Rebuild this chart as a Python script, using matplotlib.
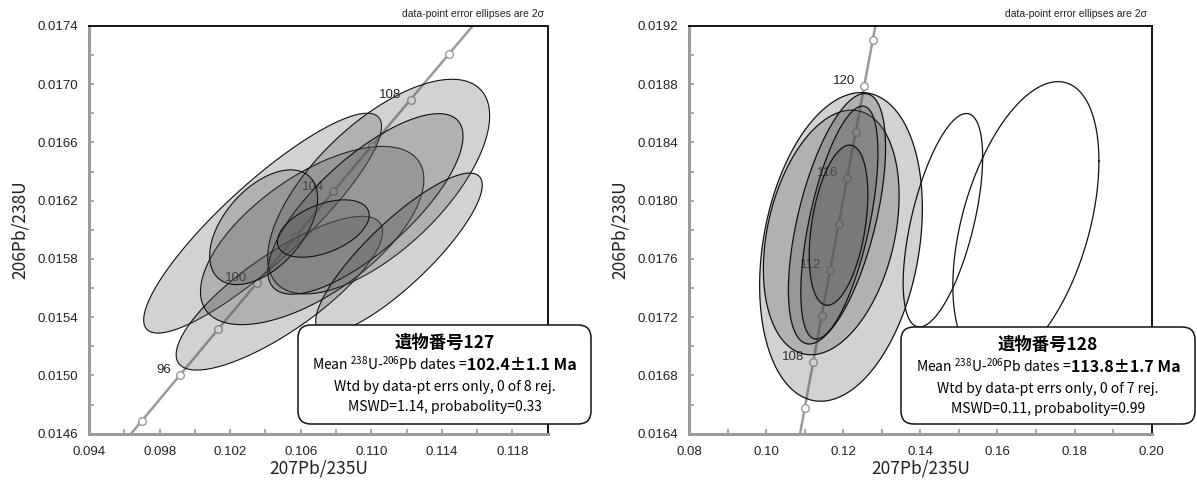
import numpy as np
import matplotlib as mlt
mlt.use('Agg')
from matplotlib import pyplot as plt
from matplotlib.patches import FancyBboxPatch
from matplotlib.transforms import IdentityTransform
from matplotlib.ticker import FixedLocator, MultipleLocator, FormatStrFormatter

plt.rcParams['font.family'] = ['Liberation Sans', 'DejaVu Sans']
plt.rcParams['mathtext.fontset'] = 'custom'
plt.rcParams['mathtext.rm'] = 'Noto Sans CJK JP'
plt.rcParams['mathtext.it'] = 'Noto Sans CJK JP'
plt.rcParams['mathtext.bf'] = 'Noto Sans CJK JP:bold'

JP = ['Noto Sans CJK JP', 'DejaVu Sans']

## concordia points (207Pb/235U, 206Pb/238U) every 2 Ma
left_ages = [92, 94, 96, 98, 100, 102, 104, 106, 108, 110, 112]
left_cx = [0.094838, 0.096996, 0.099159, 0.101326, 0.103498, 0.105674,
           0.107854, 0.110038, 0.112226, 0.114419, 0.116617]
left_cy = [0.014374, 0.014689, 0.015003, 0.015318, 0.015633, 0.015949,
           0.016264, 0.016579, 0.016895, 0.017210, 0.017526]
left_label_ages = [96, 100, 104, 108]

right_ages = [104, 106, 108, 110, 112, 114, 116, 118, 120, 122, 124]
right_cx = [0.107854, 0.110038, 0.112226, 0.114419, 0.116617, 0.118818,
            0.121024, 0.123234, 0.125449, 0.127668, 0.129891]
right_cy = [0.016264, 0.016579, 0.016895, 0.017210, 0.017526, 0.017841,
            0.018157, 0.018473, 0.018789, 0.019106, 0.019422]
right_label_ages = [108, 112, 116, 120]

## error ellipses: centre x, centre y, half-width x, half-height y, correlation
left_ex = [0.10384, 0.10479, 0.10665, 0.11042, 0.10967, 0.11157, 0.10390, 0.10728]
left_ey = [0.016046, 0.015565, 0.015961, 0.016297, 0.016178, 0.015840, 0.016018, 0.016009]
left_hx = [0.00674, 0.00585, 0.00633, 0.00629, 0.00553, 0.00472, 0.00306, 0.00260]
left_hy = [0.000755, 0.000528, 0.000612, 0.000737, 0.000620, 0.000550, 0.000394, 0.000197]
left_rho = [0.88, 0.80, 0.63, 0.66, 0.75, 0.85, 0.50, 0.46]

right_ex = [0.11942, 0.11689, 0.11838, 0.11900, 0.11878]
right_ey = [0.017683, 0.017782, 0.017876, 0.017850, 0.017832]
right_hx = [0.0211, 0.0176, 0.0126, 0.0100, 0.0076]
right_hy = [0.00106, 0.00084, 0.00086, 0.00080, 0.00055]
right_rho = [0.25, 0.30, 0.57, 0.60, 0.38]

# ellipses left out of the mean (outline only)
right_open_ex = [0.14585, 0.16737]
right_open_ey = [0.017866, 0.017844]
right_open_hx = [0.01031, 0.01894]
right_open_hy = [0.000733, 0.000974]
right_open_rho = [0.59, 0.44]

left_xticks = [0.094, 0.098, 0.102, 0.106, 0.110, 0.114, 0.118]
left_yticks = [0.0146, 0.0150, 0.0154, 0.0158, 0.0162, 0.0166, 0.0170, 0.0174]
right_xticks = [0.08, 0.10, 0.12, 0.14, 0.16, 0.18, 0.20]
right_yticks = [0.0164, 0.0168, 0.0172, 0.0176, 0.0180, 0.0184, 0.0188, 0.0192]

left_title = '遺物番号127'
left_result = '102.4±1.1 Ma'
left_wtd = 'Wtd by data-pt errs only, 0 of 8 rej.'
left_mswd = 'MSWD=1.14, probabolity=0.33'
right_title = '遺物番号128'
right_result = '113.8±1.7 Ma'
right_wtd = 'Wtd by data-pt errs only, 0 of 7 rej.'
right_mswd = 'MSWD=0.11, probabolity=0.99'

GRAY = '#9a9a9a'
FILL = (0.33, 0.33, 0.33, 0.26)


def ellipse_xy(cx, cy, hx, hy, r):
    t = np.linspace(0, 2*np.pi, 240)
    x = cx + hx*np.cos(t)
    y = cy + hy*(r*np.cos(t) + np.sqrt(1 - r*r)*np.sin(t))
    return x, y


def setup(ax, xlim, ylim, xticks, yticks, xminor, yminor, xfmt):
    ax.set_xlim(*xlim)
    ax.set_ylim(*ylim)
    ax.xaxis.set_major_locator(FixedLocator(xticks))
    ax.yaxis.set_major_locator(FixedLocator(yticks))
    ax.xaxis.set_minor_locator(MultipleLocator(xminor))
    ax.yaxis.set_minor_locator(MultipleLocator(yminor))
    ax.xaxis.set_major_formatter(FormatStrFormatter(xfmt))
    ax.yaxis.set_major_formatter(FormatStrFormatter('%.4f'))
    ax.tick_params(which='both', direction='in', length=3.5, width=1.2,
                   color=GRAY, labelsize=9.5, labelcolor='#222222')
    ax.tick_params(axis='x', pad=9)
    ax.tick_params(axis='y', pad=8)
    for s in ['left', 'bottom']:
        ax.spines[s].set_color(GRAY)
        ax.spines[s].set_linewidth(2.2)
    for s in ['top', 'right']:
        ax.spines[s].set_color('#111111')
        ax.spines[s].set_linewidth(1.4)
    ax.set_xlabel('207Pb/235U', family=JP, fontsize=12.5, labelpad=1, color='#222222')
    ax.set_ylabel('206Pb/238U', family=JP, fontsize=12.5, labelpad=6, color='#222222')


def concordia(ax, ages, cx, cy, label_ages):
    ax.plot(cx, cy, color=GRAY, lw=1.8, zorder=1)
    ax.plot(cx, cy, 'o', ms=5.5, mfc='white', mec=GRAY, mew=1.0, lw=0, zorder=2)
    for a, x, y in zip(ages, cx, cy):
        if a in label_ages:
            ax.annotate(str(a), (x, y), xytext=(-6.5, 3.5), textcoords='offset points',
                        ha='right', va='center', fontsize=9.5, color='#222222', zorder=2.5,
                        bbox=dict(boxstyle='square,pad=0.05', fc='white', ec='none'))


fig = plt.figure(figsize=(11.97, 4.84), dpi=100)
ax1 = fig.add_axes([89/1197, 1 - 433.7/484, 458.7/1197, 407.7/484])
ax2 = fig.add_axes([689/1197, 1 - 433.7/484, 462.7/1197, 407.7/484])

setup(ax1, (0.094, 0.120), (0.0146, 0.0174), left_xticks, left_yticks, 0.002, 0.0002, '%.3f')
setup(ax2, (0.08, 0.20), (0.0164, 0.0192), right_xticks, right_yticks, 0.01, 0.0002, '%.2f')

concordia(ax1, left_ages, left_cx, left_cy, left_label_ages)
concordia(ax2, right_ages, right_cx, right_cy, right_label_ages)

for i in range(len(left_ex)):
    x, y = ellipse_xy(left_ex[i], left_ey[i], left_hx[i], left_hy[i], left_rho[i])
    ax1.fill(x, y, fc=FILL, ec='#111111', lw=0.8, zorder=3 + i*0.1)

for i in range(len(right_ex)):
    x, y = ellipse_xy(right_ex[i], right_ey[i], right_hx[i], right_hy[i], right_rho[i])
    ax2.fill(x, y, fc=FILL, ec='#111111', lw=0.9, zorder=3 + i*0.1)

for i in range(len(right_open_ex)):
    x, y = ellipse_xy(right_open_ex[i], right_open_ey[i], right_open_hx[i],
                      right_open_hy[i], right_open_rho[i])
    ax2.plot(x, y, color='#111111', lw=0.9, zorder=4)

# note above each plot
fig.text(544/1197, 1 - 17/484, 'data-point error ellipses are 2σ', ha='right',
         va='baseline', fontsize=7.5, color='#222222')
fig.text(1147/1197, 1 - 17/484, 'data-point error ellipses are 2σ', ha='right',
         va='baseline', fontsize=7.5, color='#222222')

# result boxes (pixel coords from the top-left)
boxes = [(298, 325, 591, 424, left_title, left_result, left_wtd, left_mswd),
         (901, 327, 1195, 424, right_title, right_result, right_wtd, right_mswd)]
H = 484
pairs = []
for x0, y0, x1, y1, title, res, wtd, mswd in boxes:
    p = FancyBboxPatch((x0, H - y1), x1 - x0, y1 - y0,
                       boxstyle='round,pad=0,rounding_size=13',
                       transform=IdentityTransform(), fc='white', ec='#111111',
                       lw=1.1, zorder=10)
    fig.patches.append(p)
    cx = (x0 + x1) / 2
    dy = y0 - 325
    fig.text(cx/1197, 1 - (348 + dy)/H, title, ha='center', va='baseline',
             family=JP, fontsize=12.5, fontweight='bold', zorder=11)
    t1 = fig.text(cx/1197, 1 - (370 + dy)/H, 'Mean $^{238}$U-$^{206}$Pb dates =',
                  ha='right', va='baseline', family=JP, fontsize=10, zorder=11)
    t2 = fig.text(cx/1197, 1 - (370 + dy)/H, res, ha='left', va='baseline',
                  family=JP, fontsize=11.5, fontweight='bold', zorder=11)
    fig.text(cx/1197, 1 - (391 + dy)/H, wtd, ha='center', va='baseline',
             family=JP, fontsize=10, zorder=11)
    fig.text(cx/1197, 1 - (411.5 + dy)/H, mswd, ha='center', va='baseline',
             family=JP, fontsize=10, zorder=11)
    pairs.append((cx, t1, t2))

# centre the two-part result line
fig.canvas.draw()
r = fig.canvas.get_renderer()
for cx, t1, t2 in pairs:
    w1 = t1.get_window_extent(r).width
    w2 = t2.get_window_extent(r).width
    split = cx - (w1 + w2) / 2 + w1
    t1.set_x(split / 1197)
    t2.set_x(split / 1197)

fig.savefig('out.png', dpi=100)
